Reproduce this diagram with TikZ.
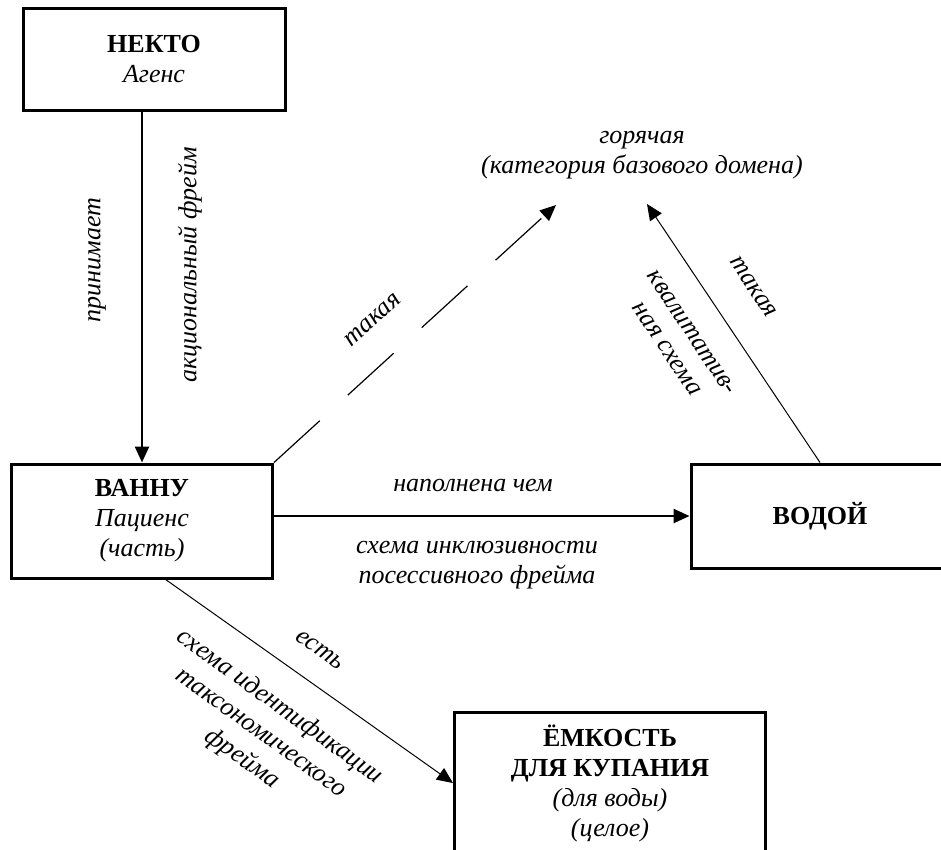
\documentclass[tikz,border=0pt]{standalone}
\usepackage{fontspec}
\setmainfont{Liberation Serif}
\usetikzlibrary{arrows.meta}
\begin{document}
\begin{tikzpicture}[x=1pt,y=-1pt,>={Triangle[length=16pt,width=14pt]},
		box/.style={draw,line width=3pt,align=center,inner sep=0pt,font=\fontsize{26}{30}\selectfont},
		lbl/.style={align=center,inner sep=0pt,font=\fontsize{26}{30}\selectfont\itshape}]
	\useasboundingbox (0,0) rectangle (941,849);
	\clip (0,0) rectangle (941,849);
	% frames
	\node[box,minimum width=262pt,minimum height=102pt] (nekto) at (154,59) {\textbf{НЕКТО}\\\textit{Агенс}};
	\node[box,minimum width=261pt,minimum height=114pt] (vannu) at (142,521) {\textbf{ВАННУ}\\\textit{Пациенс}\\\textit{(часть)}};
	\node[box,minimum width=258pt,minimum height=104pt] (vodoy) at (820,516) {\textbf{ВОДОЙ}};
	\node[box,minimum width=311pt,minimum height=142pt] (emkost) at (610,783) {\textbf{ЁМКОСТЬ}\\\textbf{ДЛЯ КУПАНИЯ}\\\textit{(для воды)}\\\textit{(целое)}};
	\node[lbl] (hot) at (642,155) {горячая\\(категория базового домена)};
	\coordinate (hotL) at (556,205);
	\coordinate (hotR) at (647,204);
	% connectors
	\draw[->,line width=2.5pt] (vannu.north |- nekto.south)--(vannu.north);
	\draw[->,line width=2.5pt] (vannu.east |- vodoy.west)--(vodoy.west);
	\draw[->,line width=1.2pt,dash pattern=on 62pt off 38pt] (vannu.north east)--(hotL);
	\draw[->,line width=1pt] (vodoy.north)--(hotR);
	\draw[->,line width=1pt] (vannu.-68)--(emkost.west);
	% labels
	\node[lbl,rotate=90] (prinim) at (97,260) {принимает};
	\node[lbl,rotate=90] (akcion) at (190,265) {акциональный фрейм};
	\node[lbl,rotate=42.6] (takayaL) at (373,320) {такая};
	\node[lbl,rotate=-56.4] (takayaR) at (753,287) {такая};
	\node[lbl,rotate=-56.4] (kvalit) at (679,341) {квалитатив-\\ная схема};
	\node[lbl] (napoln) at (473,485) {наполнена чем};
	\node[lbl] (inkluz) at (477,565) {схема инклюзивности\\посессивного фрейма};
	\node[lbl,rotate=-35.7] (est) at (320,650) {есть};
	\node[lbl,rotate=-35.7,font=\fontsize{26}{32}\selectfont\itshape] (ident) at (261,733) {схема идентификации\\таксономического\\фрейма};
\end{tikzpicture}
\end{document}
